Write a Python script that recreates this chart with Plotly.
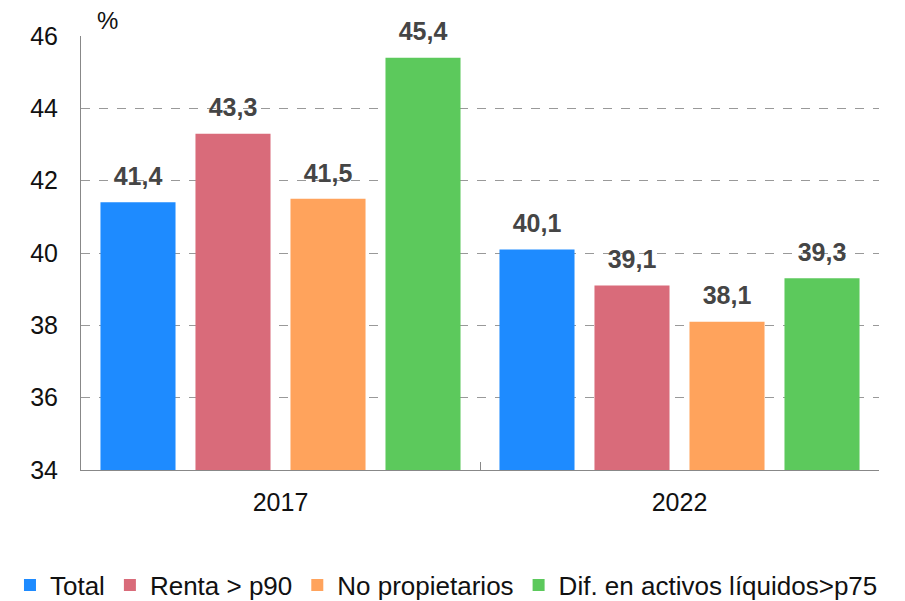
import plotly.graph_objects as go

years = ["2017", "2022"]
series_names = ["Total", "Renta > p90", "No propietarios", "Dif. en activos líquidos>p75"]
total = [41.4, 40.1]
renta = [43.3, 39.1]
no_prop = [41.5, 38.1]
dif_activos = [45.4, 39.3]
colors = ["#1E8BFF", "#D96B7A", "#FFA35C", "#5CC95C"]
y_ticks = [34, 36, 38, 40, 42, 44, 46]

FONT = "Liberation Sans, Arial, Helvetica"
fig = go.Figure()
for i, (name, vals, col) in enumerate(zip(series_names, [total, renta, no_prop, dif_activos], colors)):
    fig.add_trace(go.Bar(
        x=years, y=vals, name=name, marker_color=col, marker_line_width=0,
        offsetgroup=str(i),
    ))
for i, vals in enumerate([total, renta, no_prop, dif_activos]):
    fig.add_trace(go.Scatter(
        x=years, y=vals, mode="markers+text", showlegend=False, hoverinfo="skip",
        marker=dict(size=16, opacity=0), offsetgroup=str(i),
        text=[f"<b>{v:.1f}</b>".replace(".", ",") for v in vals],
        textposition="top center", cliponaxis=False,
        textfont=dict(family=FONT, size=25, color="#454545"),
    ))

# page body has an 8px margin, so the figure is 8px smaller than the window
fig.update_layout(
    width=897, height=593,
    margin=dict(l=73, r=26, t=28, b=131, autoexpand=False),
    plot_bgcolor="white", paper_bgcolor="white",
    barmode="group", bargap=0.0476, bargroupgap=0.21,
    scattermode="group", scattergap=0.0476,
    separators=",.",
    font=dict(family=FONT, size=25, color="#111111"),
    showlegend=True,
    legend=dict(orientation="h", x=-0.089, xanchor="left", y=-0.265, yanchor="middle",
                font=dict(size=26), itemwidth=30, traceorder="normal"),
)
fig.update_yaxes(range=[34, 46], tickvals=y_ticks, showgrid=True, gridcolor="#999999",
                 griddash="dash", gridwidth=1, showline=True, linecolor="#888888",
                 linewidth=1, ticks="", tickfont=dict(size=25), ticklabelstandoff=17,
                 zeroline=False)
fig.update_xaxes(showline=True, linecolor="#888888", linewidth=1, ticks="inside",
                 tickson="boundaries", ticklen=8, tickcolor="#888888",
                 tickfont=dict(size=25), ticklabelstandoff=10)
fig.add_annotation(text="%", xref="paper", yref="paper", x=0.019, y=1.035,
                   xanchor="left", yanchor="middle", showarrow=False, borderpad=0,
                   font=dict(size=24, color="#111111"))
fig.write_html("out.html")
